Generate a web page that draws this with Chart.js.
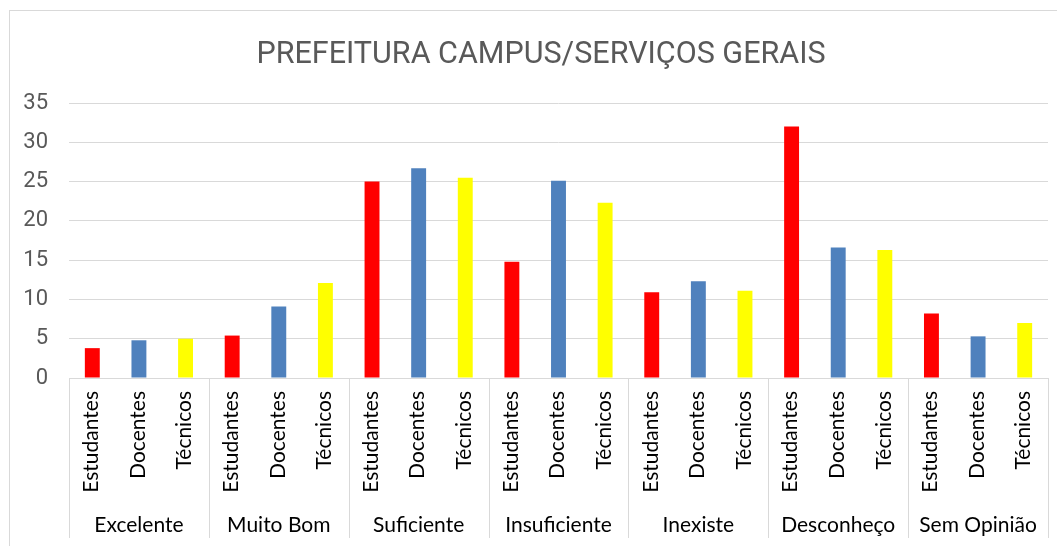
<!DOCTYPE html>
<html lang="pt">
<head>
    <meta charset="UTF-8">
    <title>Prefeitura Campus/Serviços Gerais</title>
    <style>
        html, body {
            margin: 0;
            padding: 0;
            background-color: #fff;
            overflow: hidden;
        }
        .wrap {
            position: relative;
            width: 1057px;
            height: 546px;
        }
        .frame {
            position: absolute;
            left: 9px;
            top: 10px;
            width: 1100px;
            height: 600px;
            border-left: 1px solid #d9d9d9;
            border-top: 1px solid #d9d9d9;
            pointer-events: none;
        }
        canvas {
            position: absolute;
            left: 0;
            top: 0;
        }
    </style>
</head>
<body>
    <div class="wrap">
        <canvas id="chart" width="1057" height="546"></canvas>
        <div class="frame"></div>
    </div>
    <script src="https://cdn.jsdelivr.net/npm/chart.js"></script>
    <script>
        const chartTitle = 'PREFEITURA CAMPUS/SERVIÇOS GERAIS';
        const groups = ['Excelente', 'Muito Bom', 'Suficiente', 'Insuficiente', 'Inexiste', 'Desconheço', 'Sem Opinião'];
        const segments = ['Estudantes', 'Docentes', 'Técnicos'];
        const estudantes = [3.8, 5.4, 25.0, 14.8, 10.9, 32.0, 8.2];
        const docentes = [4.8, 9.1, 26.7, 25.1, 12.3, 16.6, 5.3];
        const tecnicos = [5.0, 12.1, 25.5, 22.3, 11.1, 16.3, 7.0];
        const segColors = ['#ff0000', '#4f81bd', '#ffff00'];

        const labelFont = "21px Lato, 'Open Sans', sans-serif";

        // one bar per (group, segment) pair, in group order
        const labels = [];
        const values = [];
        const colors = [];
        groups.forEach((g, i) => {
            [estudantes, docentes, tecnicos].forEach((arr, j) => {
                labels.push(segments[j]);
                values.push(arr[i]);
                colors.push(segColors[j]);
            });
        });

        // title is centred on the whole frame, which runs past the right edge
        const frameTitle = {
            id: 'frameTitle',
            afterDraw(chart) {
                const ctx = chart.ctx;
                ctx.save();
                ctx.fillStyle = '#595959';
                ctx.font = '30.5px Roboto';
                ctx.textAlign = 'center';
                ctx.textBaseline = 'alphabetic';
                ctx.fillText(chartTitle, 541, 63);
                ctx.restore();
            }
        };

        // two-level category axis: rotated segment names, separators, group names
        const groupAxis = {
            id: 'groupAxis',
            afterDraw(chart) {
                const x = chart.scales.x;
                const ctx = chart.ctx;
                const w = (x.right - x.left) / labels.length;
                const top = chart.chartArea.bottom;
                ctx.save();
                ctx.strokeStyle = '#d9d9d9';
                ctx.lineWidth = 1;
                for (let g = 0; g <= groups.length; g++) {
                    const px = Math.round(x.left + g * 3 * w) + 0.5;
                    ctx.beginPath();
                    ctx.moveTo(px, top);
                    ctx.lineTo(px, 538);
                    ctx.stroke();
                }
                ctx.fillStyle = '#000';
                ctx.font = labelFont;

                // segment names, reading bottom to top, ending just under the axis
                labels.forEach((lbl, i) => {
                    ctx.save();
                    ctx.translate(x.getPixelForValue(i) - 1, top + 13);
                    ctx.rotate(-Math.PI / 2);
                    ctx.textAlign = 'right';
                    ctx.textBaseline = 'middle';
                    ctx.fillText(lbl, 0, 0);
                    ctx.restore();
                });

                ctx.textAlign = 'center';
                ctx.textBaseline = 'middle';
                groups.forEach((g, i) => {
                    ctx.fillText(g, x.left + (i * 3 + 1.5) * w, 525);
                });
                ctx.restore();
            }
        };

        new Chart(document.getElementById('chart'), {
            type: 'bar',
            data: {
                labels: labels,
                datasets: [{
                    data: values,
                    backgroundColor: colors,
                    borderWidth: 0,
                    barPercentage: 0.32,
                    categoryPercentage: 1
                }]
            },
            options: {
                responsive: false,
                animation: false,
                layout: { padding: { left: 0, right: 9, top: 103, bottom: 0 } },
                plugins: {
                    legend: { display: false },
                    tooltip: { enabled: false },
                    title: { display: false }
                },
                scales: {
                    x: {
                        grid: { display: false },
                        border: { display: true, color: '#d9d9d9' },
                        ticks: { display: false },
                        afterFit(scale) { scale.height = 168; }
                    },
                    y: {
                        min: 0,
                        max: 35,
                        border: { display: false },
                        grid: { color: '#d9d9d9', lineWidth: 1, drawTicks: false },
                        ticks: {
                            stepSize: 5,
                            color: '#595959',
                            font: { family: 'Roboto', size: 22 },
                            padding: 21
                        },
                        afterFit(scale) { scale.width = 69; }
                    }
                }
            },
            plugins: [groupAxis, frameTitle]
        });
    </script>
</body>
</html>
